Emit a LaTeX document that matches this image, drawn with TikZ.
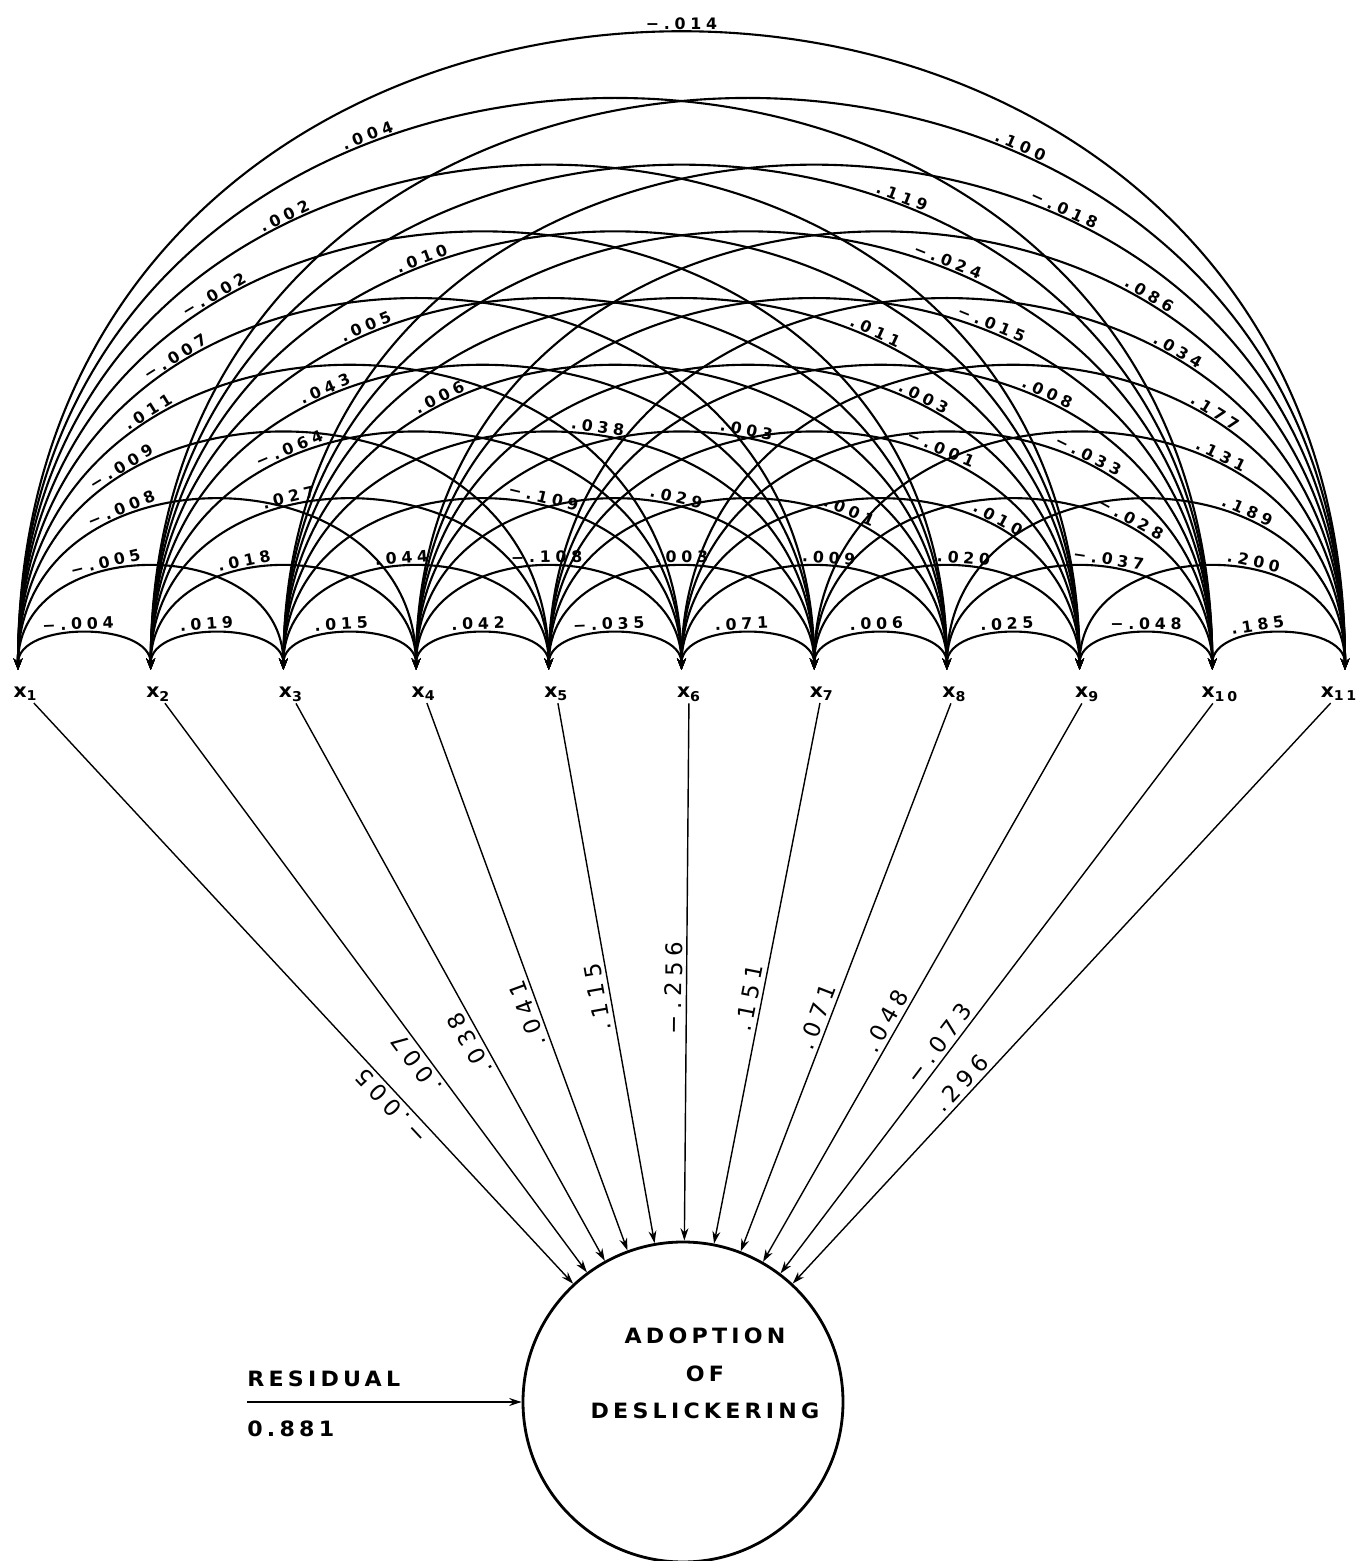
\documentclass[tikz,border=0pt]{standalone}
\usepackage{fontspec}
\setmainfont{DejaVu Sans}
\newfontfamily\letterfont{DejaVu Sans}[FakeStretch=1.05,LetterSpace=20]
\newfontfamily\numfont{DejaVu Sans}[LetterSpace=30]
\newfontfamily\pathfont{DejaVu Sans}[LetterSpace=25]
\usetikzlibrary{
    arrows.meta,
    positioning,
    calc
}
\tikzset{
    % Lines
    arrow tip/.tip={Stealth[length=6.5pt,width=5pt]},
    corr/.style={line width=1.2pt,{arrow tip}-{arrow tip}},
    path arr/.style={line width=0.8pt,{Stealth[length=7pt,width=4.5pt]}-},
    res arr/.style={line width=0.8pt,-{Stealth[length=7pt,width=4.5pt]}},
    %
    % Nodes and points
    invisible point/.style={circle,inner sep=0pt,outer sep=0pt,minimum size=0pt},
    var label/.style={font=\letterfont\bfseries\fontsize{11}{13}\selectfont,inner sep=1pt},
    circ text/.style={font=\letterfont\bfseries\fontsize{12}{21.5}\selectfont,inner sep=0pt},
    corr label/.style={font=\numfont\bfseries\fontsize{9}{10}\selectfont,sloped,above,inner sep=1.5pt},
    path label/.style={font=\pathfont\fontsize{13}{15}\selectfont,sloped,above,allow upside down,inner sep=2pt}
}

\begin{document}
\begin{tikzpicture}
    \useasboundingbox (0,0) rectangle (27.18,31.22);
    % variables
    \foreach \i in {1,...,11} {
        \node[invisible point] (x\i) at ({0.36+2.654*(\i-1)},17.82) {};
        \pgfmathsetmacro\dx{\i==11 ? -0.12 : 0.15}
        \node[var label,below=0.3cm of x\i,xshift=\dx cm] (l\i) {x\textsubscript{\i}};
    }
    % correlations i/j/pos/value
    \foreach \i/\j/\t/\v in {
        1/2/.47/−.004, 2/3/.45/.019, 3/4/.46/.015, 4/5/.48/.042, 5/6/.47/−.035,
        6/7/.47/.071, 7/8/.48/.006, 8/9/.47/.025, 9/10/.5/−.048, 10/11/.4/.185,
        1/3/.39/−.005, 2/4/.405/.018, 3/5/.465/.044, 4/6/.495/−.108, 5/7/.5/.003,
        6/8/.535/.009, 7/9/.54/.020, 8/10/.57/−.037, 9/11/.6/.200,
        1/4/.34/−.008, 2/5/.4/.027, 3/6/.6/−.109, 4/7/.6/.029, 5/8/.67/.001,
        6/9/.7/.010, 7/10/.7/−.028, 8/11/.67/.189,
        1/5/.29/−.009, 2/6/.34/−.064, 3/7/.56/.038, 4/8/.58/.003, 5/9/.66/−.001,
        6/10/.68/−.033, 7/11/.68/.131,
        1/6/.29/.011, 2/7/.34/.043, 3/8/.32/.006, 4/9/.68/.003, 5/10/.67/.008, 6/11/.71/.177,
        1/7/.29/−.007, 2/8/.345/.005, 3/9/.665/.011, 4/10/.65/−.015, 5/11/.7/.034,
        1/8/.3/−.002, 2/9/.36/.010, 3/10/.645/−.024, 4/11/.7/.086,
        1/9/.33/.002, 2/10/.64/.119, 3/11/.66/−.018,
        1/10/.36/.004, 2/11/.655/.100,
        1/11/.5/−.014} {
        \pgfmathsetmacro\c{1.7787*(\j-\i)-0.8}
        \draw[corr] (x\i) .. controls +(0,\c) and +(0,\c) .. (x\j) node[corr label,pos=\t] {\v};
    }
    % dependent variable
    \node[circle,draw,line width=1.6pt,minimum size=6.4cm,inner sep=0pt] (adopt) at (13.66,3.18) {};
    \node[circ text,align=center] (adopttxt) at (14.1,3.75) {ADOPTION\\OF\\DESLICKERING};
    % paths
    \foreach \i/\p/\v in {1/.32/−.005, 2/.38/.007, 3/.4/.038, 4/.44/.041, 5/.46/.115,
        6/.47/−.256, 7/.45/.151, 8/.42/.071, 9/.42/.048, 10/.39/−.073, 11/.33/.296} {
        \draw[path arr] (adopt) -- (l\i) node[path label,pos=\p] {\v};
    }
    % residual
    \coordinate (res) at (4.94,3.18);
    \draw[res arr] (res) -- (adopt);
    \node[circ text,anchor=south west] (restxt) at ([yshift=0.3cm]res) {RESIDUAL};
    \node[circ text,anchor=north west] (resval) at ([yshift=-0.37cm]res) {0.881};
\end{tikzpicture}
\end{document}
